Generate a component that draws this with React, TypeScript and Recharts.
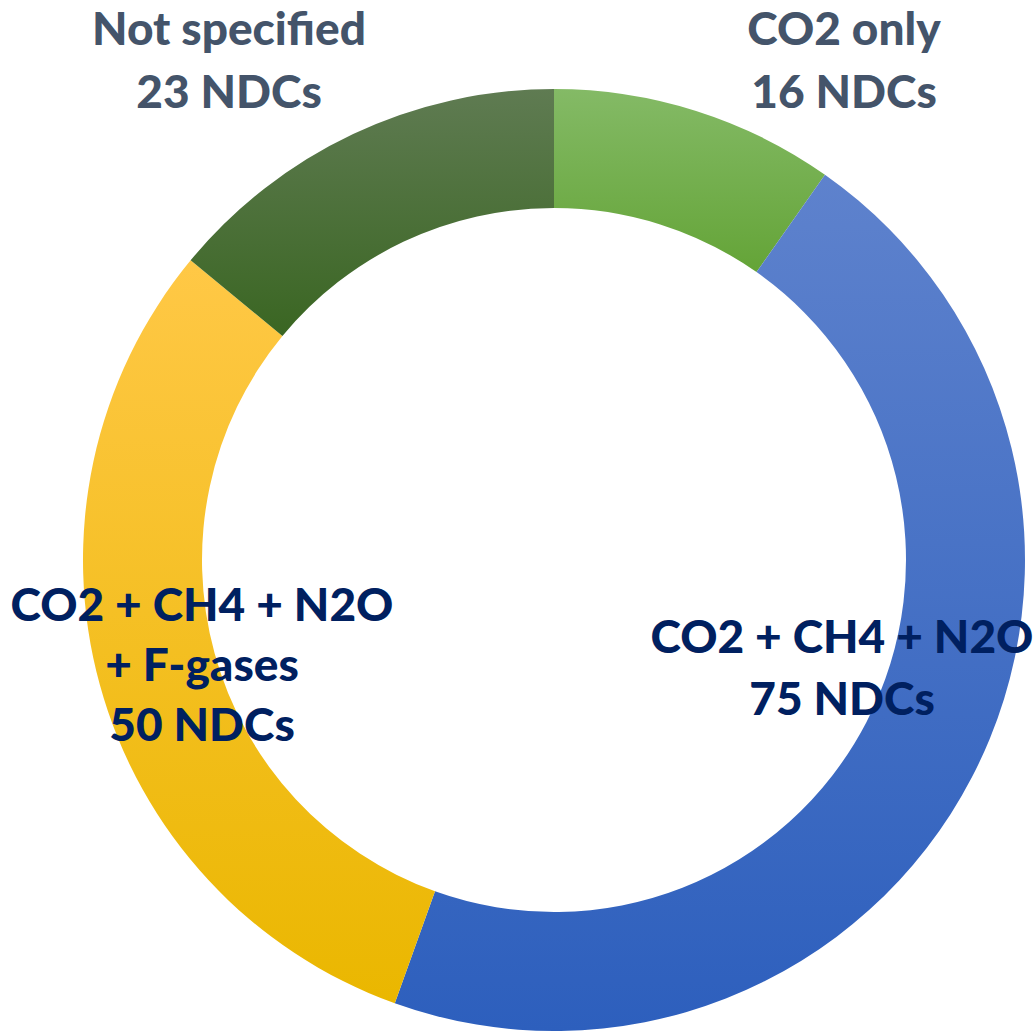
import React from 'react';
import { PieChart, Pie, Cell } from 'recharts';

const categories = ['CO2 only', 'CO2 + CH4 + N2O', 'CO2 + CH4 + N2O + F-gases', 'Not specified'];
const counts = [16, 75, 50, 23];
const labelLines = [
  ['CO2 only', '16 NDCs'],
  ['CO2 + CH4 + N2O', '75 NDCs'],
  ['CO2 + CH4 + N2O', '+ F-gases', '50 NDCs'],
  ['Not specified', '23 NDCs'],
];

const data = categories.map((name, i) => ({ name, value: counts[i] }));

// top / bottom colours of each slice's vertical gradient
const gradients = [
  ['#84BA66', '#64A437'],
  ['#5E82CD', '#2D5FBD'],
  ['#FFC846', '#EAB700'],
  ['#5F7B52', '#3A6622'],
];
const labelColors = ['#44546A', '#002060', '#002060', '#44546A'];

// label block placement: offset of first baseline from the centre, line height
const labelPos = [
  { dx: 290, dy: -515, lh: 63 },
  { dx: 288, dy: 93, lh: 62 },
  { dx: -352, dy: 61, lh: 60 },
  { dx: -325, dy: -515, lh: 63 },
];

const renderLabel = (props: any) => {
  const { cx, cy, index } = props;
  const p = labelPos[index];
  return (
    <text
      key={index}
      x={cx + p.dx}
      y={cy + p.dy}
      textAnchor="middle"
      fill={labelColors[index]}
      fontFamily="Lato, 'Open Sans', sans-serif"
      fontWeight={900}
      fontSize={46}
    >
      {labelLines[index].map((line, j) => (
        <tspan key={j} x={cx + p.dx} y={cy + p.dy + j * p.lh}>
          {line}
        </tspan>
      ))}
    </text>
  );
};

export default function App() {
  return (
    <div style={{ position: 'absolute', left: 0, top: 0, width: 1036, height: 1032, background: '#fff' }}>
      <PieChart width={1036} height={1032} margin={{ top: 0, right: 0, bottom: 0, left: 0 }}>
        <defs>
          {gradients.map((g, i) => (
            <linearGradient key={i} id={`grad${i}`} x1="0" y1="0" x2="0" y2="1">
              <stop offset="0%" stopColor={g[0]} />
              <stop offset="100%" stopColor={g[1]} />
            </linearGradient>
          ))}
        </defs>
        <Pie
          data={data}
          dataKey="value"
          nameKey="name"
          cx={554}
          cy={560}
          innerRadius={352}
          outerRadius={471}
          startAngle={90}
          endAngle={-270}
          stroke="none"
          label={renderLabel}
          labelLine={false}
          isAnimationActive={false}
        >
          {data.map((d, i) => (
            <Cell key={d.name} fill={`url(#grad${i})`} />
          ))}
        </Pie>
      </PieChart>
    </div>
  );
}
